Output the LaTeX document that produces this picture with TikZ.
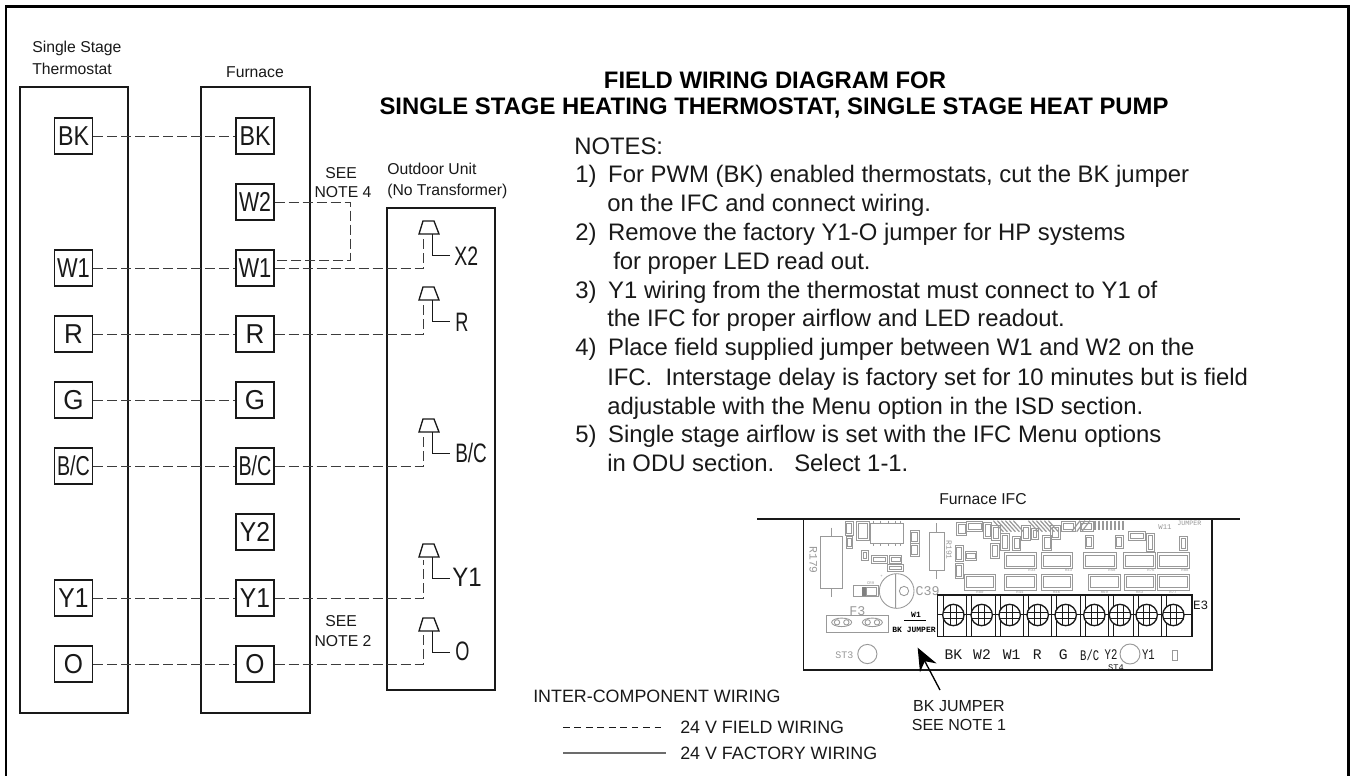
\documentclass[tikz,border=0pt]{standalone}
\usepackage{fontspec}
\setmainfont{Liberation Sans}
\newfontfamily\pcbfont{Liberation Mono}
\usetikzlibrary{arrows.meta}
\definecolor{pcbgrey}{gray}{0.6}
\definecolor{inkc}{gray}{0.1}
\newcommand{\fs}[1]{\fontsize{#1}{#1}\selectfont}
\newcommand{\sx}[2]{\scalebox{#1}[1]{#2}}
\newcommand{\nnum}[1]{\makebox[24.7pt][l]{#1}}
\tikzset{
  unitbox/.style={draw=inkc,line width=1.2pt},
  termbox/.style={draw=inkc,line width=1pt,minimum width=28.5pt,minimum height=27pt,inner sep=0pt,font=\fs{20.5}\selectfont,text=inkc},
  wire/.style={draw=inkc!85,line width=0.7pt,dash pattern=on 7.5pt off 3pt},
  plug/.style={draw=inkc,line width=1pt},
  lead/.style={draw=inkc,line width=0.7pt},
  lbl/.style={inner sep=0pt,text=inkc,font=\fs{11.8}\selectfont,align=center},
  pinlbl/.style={inner sep=0pt,anchor=west,text=inkc,font=\fs{20}\selectfont},
  note/.style={inner sep=0pt,anchor=base west,text=inkc,font=\fs{17.9}\selectfont},
  part/.style={draw=pcbgrey,line width=0.65pt},
  tiny/.style={inner sep=0pt,text=pcbgrey,font=\pcbfont\fs{3}\selectfont},
  pcbtxt/.style={inner sep=0pt,text=pcbgrey,font=\pcbfont\fs{8.5}\selectfont},
  blk/.style={draw=inkc,line width=0.7pt},
  pinname/.style={inner sep=0pt,text=inkc,font=\pcbfont\fs{11}\selectfont},
}
\newcommand{\chip}[4]{\draw[part] (#1,#2) rectangle (#3,#4);
  \draw[part] ({#1+6},{#2+7}) rectangle ({#3-6},{#4-7});}
\newcommand{\plugat}[3]{% name, x of centre stem, top y
  \draw[plug] ({#2-6},#3) -- ({#2+5},#3) -- ({#2+10},{#3+13}) -- ({#2-10},{#3+13}) -- cycle;
  \coordinate (#1) at ({#2-5.5},{#3+16});
  \draw[lead] ({#2+3},{#3+13}) -- ({#2+3},{#3+34}) -- ({#2+21},{#3+34});}
\begin{document}
\begin{tikzpicture}[x=0.75pt,y=-0.75pt]
\useasboundingbox (0,0) rectangle (1351,775);
\fill[white] (0,0) rectangle (1351,775);
% frame
\draw[draw=black,line width=1.6pt] (6,780) -- (6,6.5) -- (1348.5,6.5) -- (1348.5,780);
% unit boxes
\draw[unitbox] (20,87) rectangle (128,713);
\draw[unitbox] (201,87) rectangle (310,713);
\draw[unitbox] (387,208) rectangle (495,690);
% captions
\node[lbl,anchor=west] (capT1) at (32,48) {Single Stage};
\node[lbl,anchor=west] (capT2) at (32,69) {Thermostat};
\node[lbl] (capF) at (255,72) {Furnace};
\node[lbl,anchor=west] (capO1) at (387,169) {Outdoor Unit};
\node[lbl,anchor=west] (capO2) at (387,191) {(No Transformer)};
\node[lbl] (see4) at (341,173.5) {SEE};
\node[lbl] (note4) at (343,192.5) {NOTE 4};
\node[lbl] (see2) at (341,621) {SEE};
\node[lbl] (note2) at (343,641) {NOTE 2};
% terminals
\node[termbox] (tBK) at (73.5,136) {\sx{.85}{BK}};
\node[termbox] (tW1) at (73.5,268) {\sx{.8}{W1}};
\node[termbox] (tR) at (73.5,334) {\sx{.95}{R}};
\node[termbox] (tG) at (73.5,400) {\sx{.95}{G}};
\node[termbox] (tBC) at (73.5,466) {\sx{.72}{B/C}};
\node[termbox] (tY1) at (73.5,598) {\sx{.9}{Y1}};
\node[termbox] (tO) at (73.5,664) {\sx{.9}{O}};
\node[termbox] (fBK) at (255,136) {\sx{.85}{BK}};
\node[termbox] (fW2) at (255,202) {\sx{.78}{W2}};
\node[termbox] (fW1) at (255,268) {\sx{.8}{W1}};
\node[termbox] (fR) at (255,334) {\sx{.95}{R}};
\node[termbox] (fG) at (255,400) {\sx{.95}{G}};
\node[termbox] (fBC) at (255,466) {\sx{.72}{B/C}};
\node[termbox] (fY2) at (255,532) {\sx{.9}{Y2}};
\node[termbox] (fY1) at (255,598) {\sx{.9}{Y1}};
\node[termbox] (fO) at (255,664) {\sx{.9}{O}};
% plugs
\plugat{pX}{429}{221}
\plugat{pR}{429}{287}
\plugat{pBC}{429}{419}
\plugat{pY}{429}{544}
\plugat{pO}{429}{618}
\node[pinlbl] (lX2) at (454,256) {\sx{.73}{X2}};
\node[pinlbl] (lR) at (455,322) {\sx{.68}{R}};
\node[pinlbl] (lBC) at (455,453) {\sx{.71}{B/C}};
\node[pinlbl] (lY1) at (452,577) {\sx{.9}{Y1}};
\node[pinlbl] (lO) at (455,651) {\sx{.68}{O}};
% wires
\foreach \a/\b in {tBK/fBK,tW1/fW1,tR/fR,tG/fG,tBC/fBC,tY1/fY1,tO/fO}{\draw[wire] (\a) -- (\b);}
\coordinate (jmpA) at (350,202);
\coordinate (jmpB) at (350,260);
\coordinate (fW1b) at (fW1.east |- jmpB);
\draw[wire] (fW2.east) -- (jmpA) -- (jmpB) -- (fW1b);
\draw[wire] (fW1.east) -| (pX);
\draw[wire] (fR.east) -| (pR);
\draw[wire] (fBC.east) -| (pBC);
\draw[wire] (fY1.east) -| (pY);
\draw[wire] (fO.east) -| (pO);
% title + notes
\node[inner sep=0pt,text=black,font=\bfseries\fs{17.9}\selectfont] (title1) at (775,80) {FIELD WIRING DIAGRAM FOR};
\node[inner sep=0pt,text=black,font=\bfseries\fs{17.9}\selectfont] (title2) at (774,108) {SINGLE STAGE HEATING THERMOSTAT, SINGLE STAGE HEAT PUMP};
\node[note] (n0) at (574,154) {NOTES:};
\node[note] (n1a) at (575,182) {\nnum{1)}For PWM (BK) enabled thermostats, cut the BK jumper};
\node[note] (n1b) at (607,211) {on the IFC and connect wiring.};
\node[note] (n2a) at (575,240) {\nnum{2)}Remove the factory Y1-O jumper for HP systems};
\node[note] (n2b) at (613,269.5) {for proper LED read out.};
\node[note] (n3a) at (575,298.5) {\nnum{3)}Y1 wiring from the thermostat must connect to Y1 of};
\node[note] (n3b) at (607,326.5) {the IFC for proper airflow and LED readout.};
\node[note] (n4a) at (575,355.5) {\nnum{4)}Place field supplied jumper between W1 and W2 on the};
\node[note] (n4b) at (607,385) {IFC.\ \ Interstage delay is factory set for 10 minutes but is field};
\node[note] (n4c) at (607,414) {adjustable with the Menu option in the ISD section.};
\node[note] (n5a) at (575,442.5) {\nnum{5)}Single stage airflow is set with the IFC Menu options};
\node[note] (n5b) at (607,471) {in ODU section.\ \ \ Select 1-1.};
% legend
\node[lbl,anchor=west,font=\fs{13.4}\selectfont] (legT) at (533,696) {INTER-COMPONENT WIRING};
\coordinate (legA) at (563,727);
\coordinate (legB) at (666,727);
\coordinate (legC) at (563,753);
\coordinate (legD) at (666,753);
\draw[draw=inkc,line width=0.5pt,dash pattern=on 5pt off 3.6pt] (legA) -- (legB);
\draw[draw=gray!85!black,line width=0.9pt] (legC) -- (legD);
\node[lbl,anchor=west,font=\fs{13.4}\selectfont] (legF) at (680,727) {24 V FIELD WIRING};
\node[lbl,anchor=west,font=\fs{13.4}\selectfont] (legW) at (680,753) {24 V FACTORY WIRING};
% IFC
\node[lbl] (ifcT) at (983,499) {Furnace IFC};
\draw[draw=inkc,line width=1.2pt] (757,519) -- (1240,519);
\begin{scope}[shift={(750,480)},x=0.25pt,y=-0.25pt]
\draw[draw=inkc,line width=0.8pt] (161,120) -- (161,570) -- (1386,570) -- (1386,120);
% resistors R179 R191
\draw[part] (212,168) rectangle (278,324) (245,143) -- (245,168) (245,324) -- (245,350);
\draw[part] (537,158) rectangle (583,270) (560,130) -- (560,158) (560,270) -- (560,297);
\node[pcbtxt,rotate=-90] at (190,240) {R179};
\node[pcbtxt,rotate=-90,font=\pcbfont\fs{6}\selectfont] at (597,210) {R191};
% C39
\draw[part] (440,333) circle (13pt) (437,281) -- (437,385) (462,333) circle (3.5pt);
\node[pcbtxt,font=\pcbfont\fs{10}\selectfont] at (533,333) {C39};
\node[tiny] at (395,290) {+};
\draw[part] (310,317) rectangle (385,350);
\fill[gray] (335,320) rectangle (350,347);
\draw[part] (350,322) rectangle (378,345);
\node[tiny] at (362,310) {CR9};
% F3
\draw[part] (229,405) rectangle (415,457);
\foreach \c in {275,367}{\draw[part] (\c,427) ellipse (7.5pt and 3.2pt); \draw[part] (\c-14,427) circle (2pt) (\c+14,427) circle (2pt);}
\node[pcbtxt,font=\pcbfont\fs{10}\selectfont] at (322,393) {F3};
% small parts
\foreach \a/\b/\c/\d in {285/125/310/165,288/168/308/205,320/125/358/180,480/150/508/190,480/190/508/230,335/210/355/240,418/225/455/250,615/195/640/245,615/250/640/295,645/215/680/240,620/128/650/165,650/125/698/155,700/128/725/175,725/135/750/180,722/190/748/235,752/160/778/210,787/170/812/212,815/135/840/180,845/145/865/178,878/165/905/210,902/135/930/178,935/125/975/155,1005/165/1030/205,990/125/1030/155,1095/165/1120/205,1135/155/1185/180,1190/160/1212/215,1288/170/1312/210,365/225/412/250,412/252/460/275}{
  \draw[part] (\a,\b) rectangle (\c,\d);
  \draw[part] (\a+5,\b+6) rectangle (\c-5,\d-6);}
\draw[part] (362,130) rectangle (460,190);
\foreach \x in {370,392,414,436,452}{\draw[part] (\x,122) -- (\x,130) (\x,190) -- (\x,197);}
% row resistors
\foreach \a/\b/\t in {762/858/R33,873/968/R43,1000/1098/R58,1120/1215/R76,1222/1317/R88}{\chip{\a}{218}{\b}{265}\node[tiny] at (\b-12,272) {\t};}
\foreach \a/\b/\t in {643/737/R80,763/858/R44,873/968/R46,1016/1110/R69,1122/1215/R83,1222/1317/R77}{\chip{\a}{282}{\b}{330}\node[tiny] at (\a+47,337) {\t};}
% hatching
\foreach \x in {730,742,...,790}{\draw[part,line width=0.9pt] (\x,122) -- (\x+30,155);}
\foreach \x in {835,847,...,895}{\draw[part,line width=0.9pt] (\x,122) -- (\x+30,155);}
\foreach \x in {970,985,...,1000}{\draw[part,line width=0.9pt] (\x+20,122) -- (\x-5,155);}
\foreach \x in {1035,1047,...,1130}{\draw[part,line width=1.4pt] (\x,122) -- (\x,150);}
\node[pcbtxt,font=\pcbfont\fs{5.5}\selectfont] at (1245,141) {W11};
\node[pcbtxt,font=\pcbfont\fs{5}\selectfont] at (1318,130) {JUMPER};
% terminal block
\draw[blk,line width=1pt] (562,345) rectangle (1326,470) (562,403) -- (1326,403);
\foreach \x in {580,650,665,735,750,820,835,905,920,990,1005,1075,1090,1150,1165,1235,1250}{\draw[blk] (\x,345) -- (\x,470);}
\foreach \x in {610,695,779,863,947,1033,1110,1190,1270}{
  \fill[white] (\x,405) circle (8pt);
  \draw[blk,line width=1pt] (\x,405) circle (8pt);
  \draw[blk] (\x-31,396) -- (\x+31,396) (\x-31,414) -- (\x+31,414) (\x-9,374) -- (\x-9,436) (\x+9,374) -- (\x+9,436);
  \draw[blk] (\x-9,396) rectangle (\x+9,414);
}
\node[pcbtxt,text=inkc,font=\pcbfont\fs{9.5}\selectfont] at (1352,377) {E3};
% W1 / BK jumper
\node[inner sep=0pt,text=black,font=\pcbfont\bfseries\fs{6}\selectfont] at (498,405) {W1};
\draw[draw=black,line width=0.9pt] (463,421) -- (528,421);
\node[inner sep=0pt,text=black,font=\pcbfont\bfseries\fs{6}\selectfont] at (492,449) {BK JUMPER};
% ST
\node[pcbtxt,font=\pcbfont\fs{7.5}\selectfont] at (283,525) {ST3};
\draw[part,line width=0.7pt] (352,522) circle (7.2pt);
\draw[part,line width=0.7pt] (1140,522) circle (7.5pt);
\node[pcbtxt,text=inkc,font=\pcbfont\fs{6.5}\selectfont] at (1098,563) {ST4};
% terminal legends
\foreach \t/\x/\s in {BK/610/1,W2/696/1,W1/785/1,R/862/1,G/940/1,Y2/1083/.72,Y1/1195/.72}{
  \node[pinname] at (\x,525) {\sx{\s}{\t}};}
\node[pinname] at (1019,525) {\sx{.72}{B/C}};
\draw[part,line width=0.6pt] (1267,510) rectangle (1283,540);
% arrow
\coordinate (arrowTip) at (503,503);
\coordinate (arrowEnd) at (570,630);
\end{scope}
\draw[draw=black,line width=1pt,-{Stealth[length=17pt,width=14pt]}] (arrowEnd) -- (arrowTip);
\node[lbl,font=\fs{12}\selectfont] (bk1) at (959,706) {BK JUMPER};
\node[lbl,font=\fs{12}\selectfont] (bk2) at (959,725) {SEE NOTE 1};
\end{tikzpicture}
\end{document}
